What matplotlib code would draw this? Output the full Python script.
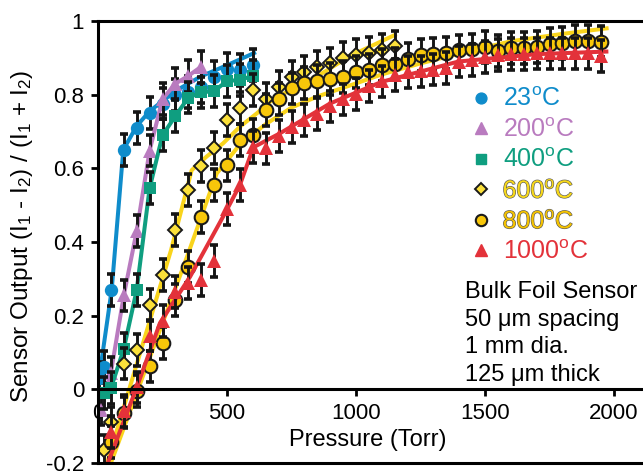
import matplotlib
matplotlib.use('Agg')
import matplotlib.pyplot as plt
import matplotlib.patheffects as pe
from matplotlib.lines import Line2D

plt.rcParams['font.family'] = ['Liberation Sans', 'DejaVu Sans']
plt.rcParams['mathtext.fontset'] = 'custom'
plt.rcParams['mathtext.rm'] = 'Liberation Sans'
plt.rcParams['mathtext.it'] = 'Liberation Sans:italic'

# measured sensor output vs pressure, one set per temperature
p_23 = [5, 25, 50, 100, 150, 200, 250, 300, 350, 400, 450, 500, 550, 600]
s_23 = [0.03, 0.06, 0.27, 0.65, 0.71, 0.75, 0.776, 0.80, 0.808, 0.82, 0.848, 0.87, 0.867, 0.88]

p_200 = [10, 50, 100, 150, 200, 250, 300, 350, 400]
s_200 = [-0.055, 0.045, 0.255, 0.43, 0.648, 0.788, 0.83, 0.851, 0.876]

p_400 = [25, 50, 100, 150, 200, 250, 300, 350, 400, 450, 500, 550, 600]
s_400 = [-0.01, 0.003, 0.11, 0.27, 0.546, 0.69, 0.742, 0.792, 0.806, 0.81, 0.837, 0.84, 0.851]

p_600 = [25, 50, 100, 150, 200, 250, 300, 350, 400, 450, 500, 550, 600,
         650, 700, 750, 800, 850, 900, 950, 1000, 1050, 1100, 1150]
s_600 = [-0.166, -0.09, 0.07, 0.106, 0.229, 0.311, 0.433, 0.541, 0.606, 0.656, 0.732, 0.763, 0.812,
         0.789, 0.822, 0.849, 0.862, 0.876, 0.885, 0.899, 0.908, 0.913, 0.921, 0.931]

p_800 = [50, 100, 150, 200, 250, 300, 350, 400, 450, 500, 550, 600, 650, 700, 750,
         800, 850, 900, 950, 1000, 1050, 1100, 1150, 1200, 1250, 1300, 1350, 1400,
         1450, 1500, 1550, 1600, 1650, 1700, 1750, 1800, 1850, 1900, 1950]
s_800 = [-0.143, -0.063, -0.004, 0.062, 0.126, 0.242, 0.332, 0.468, 0.555, 0.608, 0.677, 0.69, 0.758, 0.788, 0.817,
         0.831, 0.837, 0.842, 0.848, 0.862, 0.868, 0.88, 0.883, 0.897, 0.907, 0.91, 0.914, 0.92,
         0.923, 0.93, 0.919, 0.926, 0.926, 0.93, 0.938, 0.941, 0.947, 0.947, 0.944]

p_1000 = [50, 100, 150, 200, 250, 300, 350, 400, 450, 500, 550, 600, 650, 700, 750,
          800, 850, 900, 950, 1000, 1050, 1100, 1150, 1200, 1250, 1300, 1350, 1400,
          1450, 1500, 1550, 1600, 1650, 1700, 1750, 1800, 1850, 1900, 1950]
s_1000 = [-0.115, -0.058, 0.005, 0.146, 0.186, 0.265, 0.288, 0.297, 0.349, 0.489, 0.555, 0.657, 0.654, 0.688, 0.712,
          0.732, 0.748, 0.768, 0.787, 0.802, 0.823, 0.836, 0.853, 0.862, 0.863, 0.868, 0.873, 0.89,
          0.894, 0.903, 0.908, 0.91, 0.91, 0.912, 0.912, 0.912, 0.912, 0.912, 0.905]

err = 0.043

# fitted trend curves
fit_p_23 = [2, 53, 98, 150, 200, 300, 400, 500, 605]
fit_s_23 = [0.02, 0.27, 0.65, 0.715, 0.755, 0.81, 0.85, 0.88, 0.913]

fit_p_600 = [35, 150, 283, 363, 421, 485, 550, 615, 667, 750, 850, 977, 1150]
fit_s_600 = [-0.2, 0.068, 0.378, 0.595, 0.632, 0.668, 0.713, 0.749, 0.781, 0.815, 0.85, 0.905, 0.962]

fit_p_800 = [50, 200, 345, 460, 550, 650, 750, 850, 964, 1100, 1250, 1403, 1600, 1800, 1971]
fit_s_800 = [-0.2, 0.085, 0.36, 0.586, 0.665, 0.72, 0.765, 0.795, 0.822, 0.855, 0.885, 0.912, 0.945, 0.965, 0.98]

fit_p_1000 = [38, 150, 240, 357, 499, 550, 602, 705, 899, 1100, 1397, 1700, 1970]
fit_s_1000 = [-0.2, 0.005, 0.18, 0.306, 0.487, 0.555, 0.657, 0.695, 0.776, 0.835, 0.89, 0.91, 0.917]

labels = ['23$^\\mathrm{o}$C', '200$^\\mathrm{o}$C', '400$^\\mathrm{o}$C',
          '600$^\\mathrm{o}$C', '800$^\\mathrm{o}$C', '1000$^\\mathrm{o}$C']

blue = '#0f8ccb'
purple = '#b97bbf'
green = '#0f9e80'
yel_d = '#fbe03a'
yel_c = '#f8c70a'
yel_line = '#f9d41c'
red = '#e3323a'

fig = plt.figure(figsize=(6.43, 4.74), dpi=100)
ax = fig.add_axes([98 / 643, 11 / 474, 545 / 643, 442 / 474])


def draw(px, py, fx, fy, lcolor, marker, ms, fc, ec, mew):
    ax.plot(fx, fy, color=lcolor, lw=2.9)
    ax.errorbar(px, py, yerr=err, fmt='none', ecolor='#151515', elinewidth=2.1,
                capsize=3.0, capthick=2.6)
    ax.plot(px, py, ls='none', marker=marker, ms=ms, mfc=fc, mec=ec, mew=mew)


draw(p_23, s_23, fit_p_23, fit_s_23, blue, 'o', 9.6, blue, blue, 0)
draw(p_200, s_200, p_200, s_200, purple, '^', 10.2, purple, purple, 0)
draw(p_400, s_400, p_400, s_400, green, 's', 8.8, green, green, 0)
draw(p_600, s_600, fit_p_600, fit_s_600, yel_line, 'D', 6.8, yel_d, '#1a1a1a', 1.4)
draw(p_800, s_800, fit_p_800, fit_s_800, yel_line, 'o', 9.8, yel_c, '#1a1a1a', 1.5)
draw(p_1000, s_1000, fit_p_1000, fit_s_1000, red, '^', 10.2, red, red, 0)

ax.set_xlim(0, 2112)
ax.set_ylim(-0.2, 1.0)

ax.spines['right'].set_visible(False)
for s in ['left', 'top', 'bottom']:
    ax.spines[s].set_linewidth(2.2)
ax.spines['bottom'].set_position(('data', 0))
ax.axhline(-0.2, color='k', lw=2.2, clip_on=False, zorder=2.5)

ax.set_xticks([0, 500, 1000, 1500, 2000])
ax.set_yticks([-0.2, 0, 0.2, 0.4, 0.6, 0.8, 1.0])
ax.set_yticklabels(['-0.2', '0', '0.2', '0.4', '0.6', '0.8', '1'])
ax.tick_params(direction='out', length=5, width=2, labelsize=16, pad=5)

ax.set_xlabel('Pressure (Torr)', fontsize=17)
ax.xaxis.label.set_va('center')
ax.xaxis.set_label_coords((368 - 98) / 545, (463 - 440) / 442)
ax.set_ylabel('Sensor Output (I$_\\mathrm{1}$ - I$_\\mathrm{2}$) / (I$_\\mathrm{1}$ + I$_\\mathrm{2}$)',
              fontsize=17.5)
ax.yaxis.label.set_va('center')
ax.yaxis.set_label_coords(-(98 - 22) / 545, (463 - 236) / 442)

handles = [
    Line2D([], [], ls='none', marker='o', ms=7.8, mfc=blue, mec=blue),
    Line2D([], [], ls='none', marker='^', ms=8.2, mfc=purple, mec=purple),
    Line2D([], [], ls='none', marker='s', ms=7.5, mfc=green, mec=green),
    Line2D([], [], ls='none', marker='D', ms=5.8, mfc=yel_d, mec='#1a1a1a', mew=1.4),
    Line2D([], [], ls='none', marker='o', ms=8.2, mfc=yel_c, mec='#1a1a1a', mew=1.5),
    Line2D([], [], ls='none', marker='^', ms=8.2, mfc=red, mec=red),
]
leg = ax.legend(handles, labels, loc='upper left', bbox_to_anchor=(0.685, 0.85),
                frameon=False, fontsize=18, handlelength=0.8, handletextpad=0.45,
                labelspacing=0.26, borderaxespad=0, borderpad=0)
text_colors = [blue, purple, green, '#f7d81a', '#f5c300', red]
for t, c in zip(leg.get_texts(), text_colors):
    t.set_color(c)
for t in leg.get_texts()[3:5]:
    t.set_path_effects([pe.withStroke(linewidth=0.9, foreground='#5a5a5a')])

ax.text((465 - 98) / 545, (463 - 281) / 442,
        'Bulk Foil Sensor\n50 \u03bcm spacing\n1 mm dia.\n125 \u03bcm thick',
        transform=ax.transAxes, fontsize=17, va='top', ha='left', linespacing=1.33)

fig.savefig('out.png', dpi=100)
